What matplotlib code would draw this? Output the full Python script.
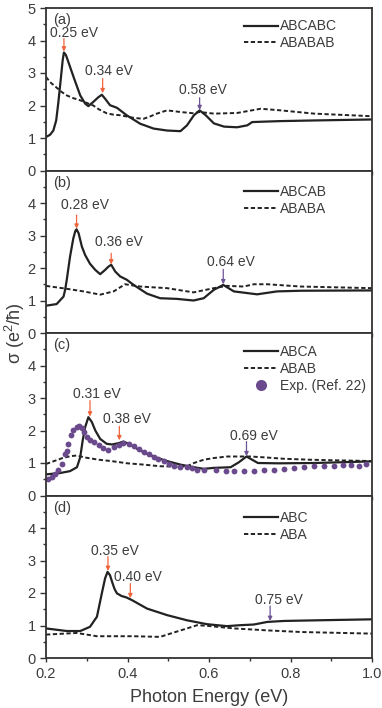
import numpy as np
import matplotlib
matplotlib.use("Agg")
import matplotlib.pyplot as plt

plt.rcParams['font.family'] = ['Liberation Sans', 'DejaVu Sans']
plt.rcParams['mathtext.fontset'] = 'custom'
plt.rcParams['mathtext.rm'] = 'Liberation Sans'
plt.rcParams['mathtext.it'] = 'Liberation Sans:italic'

# ---- data (photon energy in eV, sigma in e^2/hbar) ----
# (a) 6 layers
E_ABCABC = [0.2, 0.21, 0.218, 0.225, 0.23, 0.236, 0.241, 0.244, 0.249, 0.259, 0.269, 0.284, 0.296, 0.304,
            0.316, 0.329, 0.337, 0.345, 0.357, 0.374, 0.398, 0.431, 0.464, 0.497, 0.53, 0.546, 0.563,
            0.577, 0.592, 0.612, 0.637, 0.669, 0.694, 0.706, 0.727, 0.776, 0.858, 1.0]
S_ABCABC = [1.03, 1.10, 1.23, 1.54, 2.06, 2.78, 3.40, 3.63, 3.55, 3.19, 2.83, 2.31, 2.06, 1.98,
            2.11, 2.26, 2.33, 2.21, 2.01, 1.93, 1.70, 1.44, 1.29, 1.23, 1.21, 1.39, 1.70,
            1.85, 1.70, 1.45, 1.35, 1.33, 1.39, 1.49, 1.50, 1.52, 1.54, 1.57]
E_ABABAB = [0.2, 0.21, 0.226, 0.238, 0.251, 0.266, 0.284, 0.30, 0.316, 0.33, 0.349, 0.365, 0.382,
            0.415, 0.439, 0.455, 0.472, 0.497, 0.53, 0.562, 0.577, 0.612, 0.669, 0.727, 0.776,
            0.858, 1.0]
S_ABABAB = [2.88, 2.72, 2.55, 2.42, 2.31, 2.23, 2.16, 2.08, 2.0, 1.88, 1.76, 1.72, 1.70,
            1.62, 1.59, 1.66, 1.75, 1.85, 1.80, 1.76, 1.80, 1.75, 1.77, 1.90, 1.85,
            1.75, 1.67]

# (b) 5 layers
E_ABCAB = [0.2, 0.226, 0.243, 0.247, 0.251, 0.259, 0.267, 0.272, 0.275, 0.28, 0.288, 0.296, 0.308,
           0.321, 0.333, 0.345, 0.353, 0.36, 0.37, 0.382, 0.398, 0.415, 0.448, 0.48, 0.521, 0.562,
           0.587, 0.612, 0.635, 0.661, 0.718, 0.767, 0.825, 1.0]
S_ABCAB = [0.84, 0.89, 1.12, 1.33, 1.64, 2.35, 2.91, 3.14, 3.19, 3.07, 2.66, 2.40, 2.13,
           1.94, 1.81, 1.94, 2.04, 2.10, 1.89, 1.74, 1.64, 1.48, 1.21, 1.07, 1.05, 1.0,
           1.07, 1.33, 1.48, 1.28, 1.19, 1.28, 1.30, 1.31]
E_ABABA = [0.2, 0.251, 0.292, 0.333, 0.366, 0.394, 0.431, 0.497, 0.562, 0.612, 0.644, 0.685,
           0.71, 0.743, 0.825, 1.0]
S_ABABA = [1.45, 1.36, 1.28, 1.18, 1.28, 1.50, 1.43, 1.38, 1.25, 1.38, 1.45, 1.43,
           1.50, 1.50, 1.43, 1.38]

# (c) 4 layers + experiment
E_ABCA = [0.2, 0.234, 0.259, 0.276, 0.284, 0.29, 0.296, 0.304, 0.3125, 0.321, 0.333, 0.349, 0.362,
          0.378, 0.39, 0.403, 0.423, 0.448, 0.4725, 0.497, 0.53, 0.563, 0.587, 0.612, 0.653, 0.673,
          0.692, 0.72, 0.77, 0.86, 1.0]
S_ABCA = [0.65, 0.69, 0.75, 0.87, 1.18, 1.69, 2.10, 2.41, 2.26, 2.0, 1.74, 1.59, 1.57,
          1.61, 1.66, 1.59, 1.44, 1.28, 1.16, 1.06, 0.95, 0.87, 0.82, 0.85, 0.87, 1.02,
          1.20, 1.0, 0.99, 1.0, 1.05]
E_ABAB = [0.2, 0.22, 0.24, 0.26, 0.275, 0.3, 0.33, 0.36, 0.4, 0.44, 0.48, 0.52, 0.546, 0.563,
          0.587, 0.61, 0.645, 0.702, 0.74, 0.784, 0.85, 0.92, 1.0]
S_ABAB = [0.97, 1.06, 1.15, 1.21, 1.23, 1.16, 1.10, 1.06, 0.99, 0.95, 0.90, 0.89, 0.90, 1.0,
          1.10, 1.15, 1.20, 1.20, 1.17, 1.13, 1.10, 1.08, 1.06]
E_Exp = [0.206, 0.214, 0.222, 0.23, 0.239, 0.247, 0.251, 0.255, 0.261, 0.267, 0.276, 0.282, 0.288,
         0.294, 0.30, 0.308, 0.317, 0.329, 0.341, 0.353, 0.366, 0.378, 0.39, 0.403, 0.415, 0.427,
         0.44, 0.452, 0.464, 0.476, 0.489, 0.501, 0.513, 0.53, 0.546, 0.559, 0.571, 0.587, 0.616,
         0.641, 0.661, 0.686, 0.71, 0.735, 0.76, 0.784, 0.809, 0.833, 0.858, 0.883, 0.907, 0.928,
         0.948, 0.969, 0.985]
S_Exp = [0.51, 0.58, 0.67, 0.80, 0.97, 1.28, 1.38, 1.59, 1.85, 2.02, 2.12, 2.15, 2.07,
         1.95, 1.80, 1.71, 1.64, 1.54, 1.46, 1.41, 1.49, 1.56, 1.61, 1.59, 1.52, 1.43,
         1.35, 1.28, 1.20, 1.13, 1.05, 0.97, 0.92, 0.89, 0.87, 0.84, 0.80, 0.79, 0.77,
         0.74, 0.75, 0.75, 0.74, 0.77, 0.79, 0.82, 0.84, 0.87, 0.90, 0.92, 0.92, 0.95,
         0.95, 0.92, 0.97]

# (d) 3 layers
E_ABC = [0.2, 0.251, 0.284, 0.308, 0.325, 0.337, 0.345, 0.351, 0.357, 0.362, 0.368, 0.374, 0.385,
         0.398, 0.411, 0.448, 0.497, 0.546, 0.595, 0.644, 0.677, 0.71, 0.743, 0.784, 0.866, 1.0]
S_ABC = [0.91, 0.83, 0.83, 0.96, 1.27, 1.99, 2.45, 2.65, 2.55, 2.35, 2.13, 1.99, 1.91,
         1.86, 1.78, 1.52, 1.32, 1.16, 1.04, 0.98, 1.01, 1.03, 1.11, 1.14, 1.16, 1.19]
E_ABA = [0.2, 0.275, 0.325, 0.415, 0.48, 0.505, 0.546, 0.571, 0.595, 0.661, 0.743, 0.825, 1.0]
S_ABA = [0.72, 0.77, 0.67, 0.67, 0.65, 0.75, 0.91, 1.01, 0.99, 0.91, 0.85, 0.80, 0.75]

Series = [
    (E_ABCABC, S_ABCABC, "ABCABC", E_ABABAB, S_ABABAB, "ABABAB"),
    (E_ABCAB, S_ABCAB, "ABCAB", E_ABABA, S_ABABA, "ABABA"),
    (E_ABCA, S_ABCA, "ABCA", E_ABAB, S_ABAB, "ABAB"),
    (E_ABC, S_ABC, "ABC", E_ABA, S_ABA, "ABA"),
]
PanelLabels = ["(a)", "(b)", "(c)", "(d)"]

# peak markers: (label, arrow energy, arrow tail, arrow head, text x, text y, kind)
Peaks = [
    [("0.25 eV", 0.244, 4.06, 3.66, 0.269, 4.22, 0), ("0.34 eV", 0.339, 2.83, 2.38, 0.354, 3.07, 0),
     ("0.58 eV", 0.577, 2.24, 1.86, 0.585, 2.49, 1)],
    [("0.28 eV", 0.275, 3.63, 3.21, 0.296, 3.94, 0), ("0.36 eV", 0.36, 2.45, 2.11, 0.378, 2.79, 0),
     ("0.64 eV", 0.635, 1.96, 1.50, 0.653, 2.20, 1)],
    [("0.31 eV", 0.308, 2.92, 2.43, 0.325, 3.13, 0), ("0.38 eV", 0.38, 2.13, 1.70, 0.399, 2.36, 0),
     ("0.69 eV", 0.692, 1.66, 1.21, 0.71, 1.82, 1)],
    [("0.35 eV", 0.352, 3.12, 2.68, 0.37, 3.30, 0), ("0.40 eV", 0.407, 2.29, 1.84, 0.426, 2.48, 0),
     ("0.75 eV", 0.75, 1.60, 1.14, 0.772, 1.80, 1)],
]

TextCol = "#3c3c3c"
LineCol = "#222222"
ArrowCols = ["#f0643c", "#6e5494"]
DotCol = "#6a4a8c"
LegendTop = [0.93, 0.91, 0.925, 0.905]

W, H = 382, 708
fig = plt.figure(figsize=(W / 100, H / 100), dpi=100)
Left, Right = 46 / W, 372 / W
PanelH = 162.5 / H
Bottom = 1 - 658 / H

axes = []
for i in range(4):
    ax = fig.add_axes([Left, Bottom + (3 - i) * PanelH, Right - Left, PanelH])
    axes.append(ax)
    Ea, Sa, La, Eb, Sb, Lb = Series[i]
    ax.plot(Ea, Sa, color=LineCol, lw=1.6, label=La, solid_joinstyle='round')
    ax.plot(Eb, Sb, color=LineCol, lw=1.4, ls=(0, (2.2, 1.3)), label=Lb)
    if i == 2:
        ax.plot(E_Exp, S_Exp, 'o', color=DotCol, ms=4.2, mec='none', label="Exp. (Ref. 22)")

    for (txt, xa, y0, y1, tx, ty, kind) in Peaks[i]:
        ax.annotate('', xy=(xa, y1), xytext=(xa, y0),
                    arrowprops=dict(arrowstyle='-|>', color=ArrowCols[kind], lw=0.9,
                                    mutation_scale=6, shrinkA=0, shrinkB=0))
        ax.text(tx, ty, txt, ha='center', va='center', fontsize=10, color=TextCol)

    ax.text(0.022, 0.925, PanelLabels[i], transform=ax.transAxes, fontsize=10.5,
            color=TextCol, ha='left', va='center')

    leg = ax.legend(loc='upper left', bbox_to_anchor=(197 / 325, LegendTop[i]), frameon=False,
                    fontsize=10, handlelength=2.5, handletextpad=0.1, labelspacing=0.2,
                    borderpad=0, borderaxespad=0, markerscale=1.9)
    for t in leg.get_texts():
        t.set_color(TextCol)

    ax.set_xlim(0.2, 1.0)
    ax.set_ylim(0, 5)
    ax.set_xticks(np.arange(0.2, 1.01, 0.2))
    ax.set_xticks(np.arange(0.3, 1.0, 0.2), minor=True)
    if i == 0:
        ax.set_yticks(np.arange(0, 6, 1))
    else:
        ax.set_yticks(np.arange(0, 5, 1))
    ax.set_yticks(np.arange(0.5, 5, 1), minor=True)
    ax.tick_params(axis='both', which='both', direction='out', colors="#333333",
                   labelcolor=TextCol, labelsize=10.5, width=1.0)
    ax.tick_params(axis='y', which='major', length=4)
    ax.tick_params(axis='y', which='minor', length=2.5)
    ax.tick_params(axis='x', which='major', length=3)
    ax.tick_params(axis='x', which='minor', length=2)
    if i < 3:
        ax.tick_params(axis='x', labelbottom=False)
    for sp in ax.spines.values():
        sp.set_linewidth(1.3)
        sp.set_color("#333333")

axes[3].set_xlabel("Photon Energy (eV)", fontsize=13, color=TextCol, labelpad=6)
fig.text(15 / W, 1 - 333 / H, "σ (e$^2$/ħ)", rotation=90, ha='center', va='center',
         fontsize=13, color=TextCol)

fig.savefig("out.png", dpi=100)
